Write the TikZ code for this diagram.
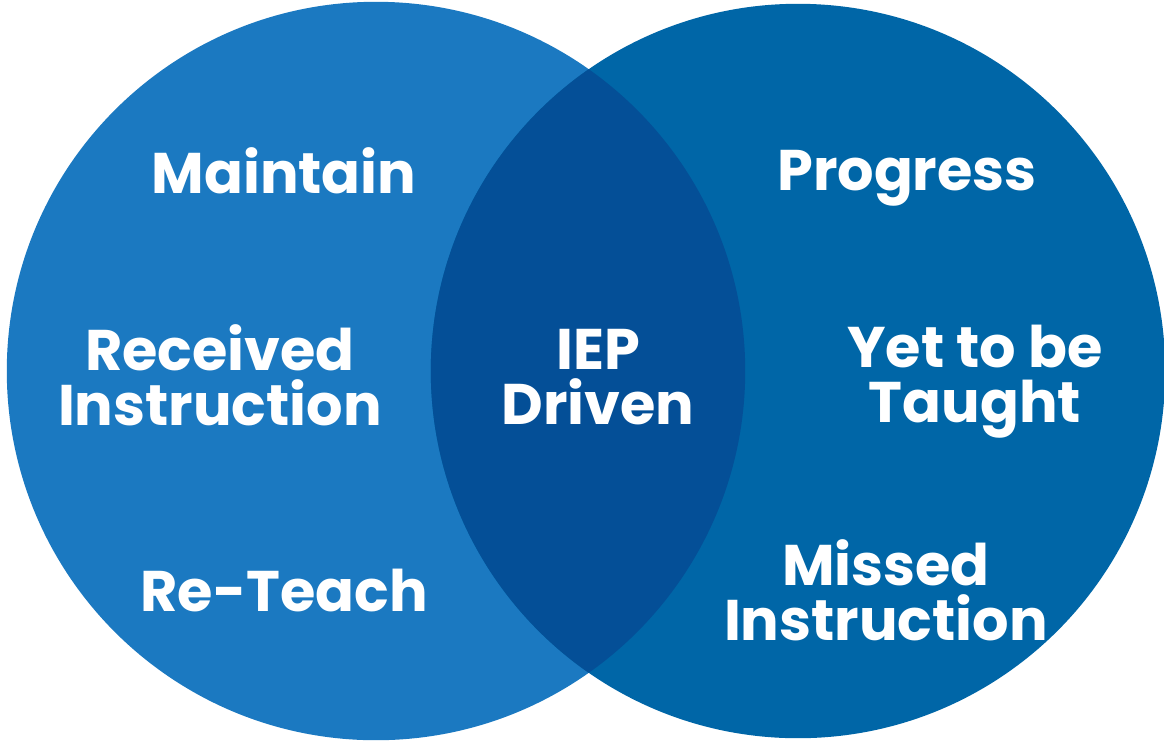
\documentclass[tikz,border=0pt]{standalone}
\usepackage{fontspec}
\setmainfont{Poppins}[BoldFont={* Bold}]
\definecolor{leftblue}{HTML}{1B79C1}
\definecolor{rightblue}{HTML}{0066A7}
\definecolor{midblue}{HTML}{044F97}
\tikzset{
  label/.style={text=white, font=\bfseries\fontsize{16.3}{15.6}\selectfont, align=center, inner sep=0pt}
}
\begin{document}
\begin{tikzpicture}[x=0.01cm,y=-0.01cm]
      \useasboundingbox (0,0) rectangle (1164,742);
      \fill [leftblue] (376,371) circle [radius=3.69cm];
      \fill [rightblue] (798,371) circle [radius=3.67cm];
      \begin{scope}
        \clip (376,371) circle [radius=3.69cm];
        \fill [midblue] (798,371) circle [radius=3.67cm];
      \end{scope}

      \node[label] (maintain) at (284,171) {Maintain};
      \node[label] (received) at (220,375) {Received\\Instruction};
      \node[label] (reteach) at (284,591) {Re-Teach};
      \node[label] (iep) at (598,377) {IEP\\Driven};
      \node[label] (progress) at (907,178) {Progress};
      \node[label] (yet) at (975,382) {Yet to be\\Taught};
      \node[label] (missed) at (886,590) {Missed\\Instruction};
\end{tikzpicture}
\end{document}
